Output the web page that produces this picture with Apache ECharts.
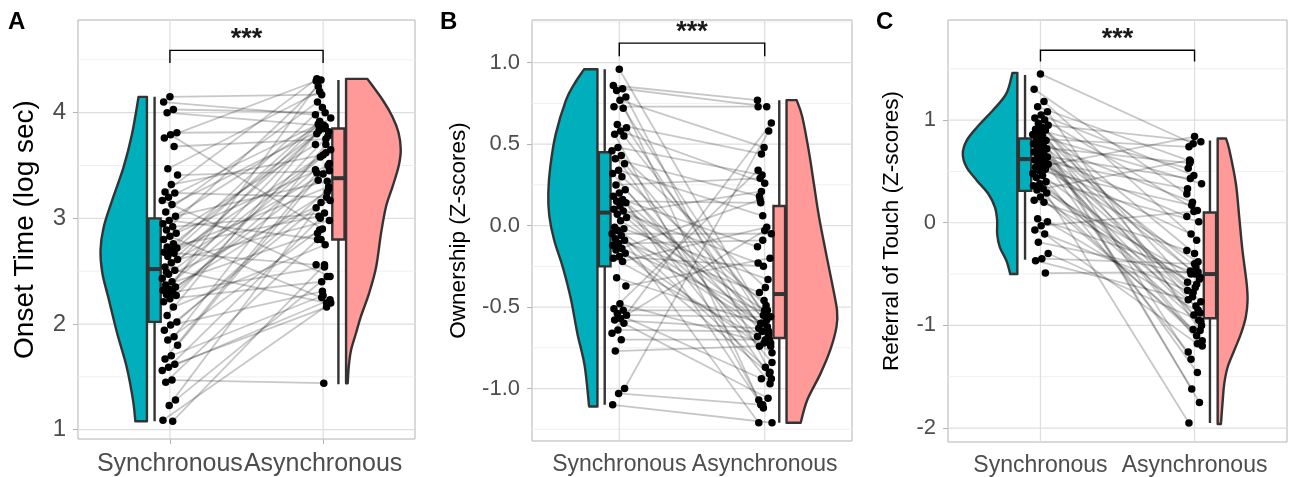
<!DOCTYPE html>
<html>
<head>
<meta charset="utf-8">
<script src="https://cdn.jsdelivr.net/npm/echarts@6/dist/echarts.min.js"></script>
<style>html,body{margin:0;padding:0;background:#fff}#chart{width:1293px;height:477px}</style>
</head>
<body>
<div id="chart"></div>
<script>
// categories
var categories = ['Synchronous', 'Asynchronous'];

// A: onset time (log sec), one entry per participant, sync / async in the same order
var onsetSync = [4.15,4.10,4.03,4.00,3.81,3.79,3.76,3.68,3.47,3.41,3.32,3.25,3.24,3.20,3.17,3.13,3.06,3.02,2.98,2.95,2.92,2.89,2.86,2.83,2.80,2.76,2.73,2.72,2.70,2.68,2.67,2.64,2.61,2.58,2.54,2.51,2.47,2.43,2.40,2.37,2.35,2.33,2.32,2.30,2.28,2.27,2.24,2.21,2.16,2.08,2.02,1.99,1.94,1.88,1.85,1.80,1.70,1.67,1.62,1.59,1.56,1.47,1.45,1.28,1.23,1.09,1.08,2.49];
var onsetAsync = [4.17,3.98,4.00,3.88,3.82,2.90,4.30,3.75,4.20,3.45,3.60,4.32,3.20,3.90,2.45,3.85,4.10,3.35,2.80,3.95,3.05,4.25,3.50,2.25,3.70,3.87,3.02,3.30,4.05,2.56,3.62,3.92,2.98,3.42,3.80,2.20,3.58,3.17,3.88,2.86,3.25,4.31,3.65,2.54,3.36,3.78,2.40,3.46,2.75,3.83,3.28,2.31,3.10,3.70,2.89,3.52,2.27,3.43,2.16,3.00,2.23,1.44,2.80,2.45,3.15,2.20,2.56,3.89];
// box stats [lower whisker, q1, median, q3, upper whisker]
var onsetBoxSync = [1.08, 2.02, 2.52, 3.00, 4.15];
var onsetBoxAsync = [1.43, 2.80, 3.38, 3.85, 4.31];
// violin outlines: y values and relative density
var onsetViolinSyncY = [4.15,3.80,3.49,3.17,2.92,2.70,2.48,2.23,1.91,1.60,1.28,1.08];
var onsetViolinSyncD = [0.18,0.32,0.50,0.75,0.93,1.00,0.96,0.82,0.64,0.44,0.30,0.25];
var onsetViolinAsyncY = [4.32,4.12,3.96,3.81,3.65,3.49,3.30,3.11,2.86,2.54,2.29,2.07,1.91,1.75,1.60,1.44];
var onsetViolinAsyncD = [0.39,0.67,0.85,0.96,1.00,0.96,0.85,0.73,0.64,0.55,0.42,0.27,0.18,0.09,0.05,0.03];
var onsetTicks = [1, 2, 3, 4];
var onsetMinor = [1.5, 2.5, 3.5, 4.5];

// B: ownership (Z-scores)
var ownSync = [0.96,0.86,0.84,0.83,0.79,0.77,0.73,0.72,0.62,0.60,0.58,0.56,0.55,0.48,0.46,0.43,0.41,0.38,0.34,0.32,0.30,0.25,0.22,0.20,0.18,0.16,0.15,0.14,0.12,0.10,0.09,0.07,0.05,0.03,-0.01,-0.02,-0.03,-0.05,-0.06,-0.08,-0.09,-0.11,-0.12,-0.14,-0.15,-0.17,-0.19,-0.20,-0.22,-0.32,-0.37,-0.48,-0.51,-0.52,-0.54,-0.55,-0.57,-0.58,-0.60,-0.64,-0.66,-0.70,-0.77,-1.00,-1.03,-1.10];
var ownAsync = [-0.55,0.77,0.73,-1.10,-0.90,0.48,0.73,-0.62,0.44,-0.72,0.26,-1.07,-0.56,0.31,-0.94,-0.38,0.18,-0.67,0.06,-0.84,-0.49,0.29,-0.70,-1.12,-0.13,-0.58,0.14,-0.97,-0.46,-0.23,-0.63,0.21,-0.74,-0.52,-1.21,-0.33,-0.60,-0.05,-0.87,-0.41,-0.65,-0.09,-0.78,-0.54,0.16,-0.91,-0.25,-0.68,-0.01,-0.60,-0.20,-0.72,0.34,-0.52,-0.94,-0.56,-0.03,-0.63,-1.06,-0.65,0.63,-0.70,-0.74,0.58,-1.10,-1.21];
var ownBoxSync = [-1.10, -0.25, 0.08, 0.45, 0.96];
var ownBoxAsync = [-1.21, -0.69, -0.42, 0.12, 0.77];
var ownViolinSyncY = [0.96,0.87,0.77,0.56,0.36,0.20,0.06,-0.09,-0.25,-0.45,-0.66,-0.86,-1.11];
var ownViolinSyncD = [0.27,0.47,0.64,0.85,0.96,1.00,0.98,0.88,0.71,0.54,0.41,0.26,0.17];
var ownViolinAsyncY = [0.77,0.67,0.46,0.26,0.06,-0.15,-0.35,-0.52,-0.62,-0.76,-0.91,-1.07,-1.21];
var ownViolinAsyncD = [0.20,0.31,0.44,0.54,0.64,0.77,0.90,1.00,0.99,0.87,0.67,0.41,0.28];
var ownTicks = [-1, -0.5, 0, 0.5, 1];
var ownMinor = [-1.25, -0.75, -0.25, 0.25, 0.75, 1.25];

// C: referral of touch (Z-scores)
var refSync = [1.45,1.30,1.18,1.13,1.08,1.05,1.02,1.00,0.97,0.95,0.93,0.91,0.90,0.88,0.86,0.84,0.82,0.80,0.78,0.77,0.75,0.74,0.72,0.70,0.69,0.67,0.66,0.64,0.63,0.61,0.60,0.58,0.57,0.55,0.54,0.52,0.51,0.48,0.46,0.44,0.40,0.38,0.36,0.33,0.32,0.29,0.25,0.22,0.20,0.04,0.01,-0.03,-0.07,-0.11,-0.19,-0.30,-0.35,-0.37,-0.49];
var refAsync = [0.77,0.28,-0.17,0.60,-1.05,0.46,-0.58,0.12,-1.33,0.79,-0.30,0.53,-0.85,-1.62,0.38,-0.50,0.74,-0.95,0.20,-1.20,-0.43,0.58,-1.75,-0.68,0.06,-1.10,0.43,-0.53,-0.90,0.33,-1.46,-0.11,-0.77,0.84,-1.26,-0.38,0.17,-1.00,-0.63,-1.95,0.01,-0.72,-1.15,-0.81,0.61,-0.55,-1.04,-0.27,-0.60,-0.47,-0.88,0.11,-0.66,-1.18,-0.50,-0.96,-0.40,-0.75,-0.48];
var refBoxSync = [-0.36, 0.31, 0.62, 0.82, 1.44];
var refBoxAsync = [-1.95, -0.93, -0.50, 0.10, 0.80];
var refViolinSyncY = [1.46,1.26,1.10,0.93,0.80,0.67,0.54,0.41,0.28,0.15,0.02,-0.11,-0.24,-0.37,-0.50];
var refViolinSyncD = [0.09,0.20,0.44,0.74,0.93,1.00,0.93,0.74,0.53,0.41,0.37,0.37,0.32,0.20,0.13];
var refViolinAsyncY = [0.82,0.71,0.38,0.06,-0.27,-0.59,-0.76,-0.92,-1.08,-1.24,-1.41,-1.57,-1.73,-1.96];
var refViolinAsyncD = [0.28,0.39,0.61,0.72,0.83,0.97,1.00,0.94,0.78,0.56,0.33,0.22,0.17,0.11];
var refTicks = [-2, -1, 0, 1];
var refMinor = [-1.5, -0.5, 0.5, 1.5];

// significance label and bracket heights
var sigLabel = '***';
var sigBarY = [4.59, 1.12, 1.68];
var sigTickY = [4.47, 1.04, 1.57];

var FONT = '"Liberation Sans", Arial, Helvetica, sans-serif';
var TEAL = '#00AFBB', PINK = '#FF9A98', OUTLINE = '#333333';
var VIOLIN_GAP = 0.15, BOX_GAP = 0.10, BOX_W = 0.08, JIT = 0.1;

var panels = [
  {sync: onsetSync, async: onsetAsync, boxS: onsetBoxSync, boxA: onsetBoxAsync,
   vSY: onsetViolinSyncY, vSD: onsetViolinSyncD, vAY: onsetViolinAsyncY, vAD: onsetViolinAsyncD,
   ticks: onsetTicks, minor: onsetMinor, title: 'Onset Time (log sec)', letter: 'A',
   min: 0.912, max: 4.877, grid: {left: 78, top: 20, width: 337, height: 419},
   vw: [0.303, 0.357], tickFont: 24, catFont: 25, titleFont: 28, nameGap: 39, catMargin: 13, letterX: 8,
   fmt: function (v) { return String(v); }},
  {sync: ownSync, async: ownAsync, boxS: ownBoxSync, boxA: ownBoxAsync,
   vSY: ownViolinSyncY, vSD: ownViolinSyncD, vAY: ownViolinAsyncY, vAD: ownViolinAsyncD,
   ticks: ownTicks, minor: ownMinor, title: 'Ownership (Z-scores)', letter: 'B',
   min: -1.322, max: 1.262, grid: {left: 532, top: 20, width: 320, height: 421},
   vw: [0.338, 0.347], tickFont: 22, catFont: 23, titleFont: 22.5, nameGap: 62, catMargin: 12, letterX: 440,
   fmt: function (v) { return v.toFixed(1); }},
  {sync: refSync, async: refAsync, boxS: refBoxSync, boxA: refBoxAsync,
   vSY: refViolinSyncY, vSD: refViolinSyncD, vAY: refViolinAsyncY, vAD: refViolinAsyncD,
   ticks: refTicks, minor: refMinor, title: 'Referral of Touch (Z-scores)', letter: 'C',
   min: -2.136, max: 1.975, grid: {left: 948, top: 20, width: 339, height: 422},
   vw: [0.354, 0.194], tickFont: 22, catFont: 23, titleFont: 22.5, nameGap: 45, catMargin: 12, letterX: 876,
   fmt: function (v) { return String(v); }}
];

// spreads points sideways around the category, same for every panel
function jitter(i, seed) {
  return (((i * 37 + seed * 11) % 23) / 22 - 0.5) * JIT;
}

// smooth path through points (catmull-rom -> bezier)
function smoothPath(pts) {
  var d = '';
  for (var i = 0; i < pts.length - 1; i++) {
    var p0 = pts[Math.max(i - 1, 0)], p1 = pts[i], p2 = pts[i + 1], p3 = pts[Math.min(i + 2, pts.length - 1)];
    var c1 = [p1[0] + (p2[0] - p0[0]) / 6, p1[1] + (p2[1] - p0[1]) / 6];
    var c2 = [p2[0] - (p3[0] - p1[0]) / 6, p2[1] - (p3[1] - p1[1]) / 6];
    d += ' C' + c1[0] + ' ' + c1[1] + ' ' + c2[0] + ' ' + c2[1] + ' ' + p2[0] + ' ' + p2[1];
  }
  return d;
}

var grids = [], xAxes = [], yAxes = [], series = [], graphics = [];

panels.forEach(function (p, k) {
  grids.push({left: p.grid.left, top: p.grid.top, width: p.grid.width, height: p.grid.height,
    show: true, borderColor: '#B3B3B3', borderWidth: 1, backgroundColor: '#fff'});
  xAxes.push({type: 'value', gridIndex: k, min: 0.4, max: 2.6,
    axisLine: {show: false}, splitLine: {show: false},
    axisTick: {show: true, customValues: [1, 2], length: 5, lineStyle: {color: '#B3B3B3', width: 1}},
    axisLabel: {customValues: [1, 2], margin: p.catMargin, color: '#4D4D4D', fontSize: p.catFont, fontFamily: FONT,
      formatter: function (v) { return categories[Math.round(v) - 1]; }}});
  yAxes.push({type: 'value', gridIndex: k, min: p.min, max: p.max,
    axisLine: {show: false}, splitLine: {show: false},
    axisTick: {show: true, customValues: p.ticks, length: 5, lineStyle: {color: '#B3B3B3', width: 1}},
    axisLabel: {customValues: p.ticks, margin: 12, color: '#4D4D4D', fontSize: p.tickFont, fontFamily: FONT, formatter: p.fmt},
    name: p.title, nameLocation: 'middle', nameGap: p.nameGap,
    nameTextStyle: {color: '#000', fontSize: p.titleFont, fontFamily: FONT}});

  graphics.push({type: 'text', left: p.letterX, top: 10,
    style: {text: p.letter, font: 'bold 24px ' + FONT, fill: '#000'}});

  // grid lines
  series.push({type: 'custom', xAxisIndex: k, yAxisIndex: k, z: 1, silent: true, data: [[1, p.ticks[0]]],
    renderItem: function (params, api) {
      var cs = params.coordSys, ch = [];
      p.minor.forEach(function (v) {
        var y = api.coord([1, v])[1];
        ch.push({type: 'line', shape: {x1: cs.x, y1: y, x2: cs.x + cs.width, y2: y}, style: {stroke: '#EFEFEF', lineWidth: 1}});
      });
      p.ticks.forEach(function (v) {
        var y = api.coord([1, v])[1];
        ch.push({type: 'line', shape: {x1: cs.x, y1: y, x2: cs.x + cs.width, y2: y}, style: {stroke: '#DEDEDE', lineWidth: 1.2}});
      });
      [1, 2].forEach(function (v) {
        var x = api.coord([v, 0])[0];
        ch.push({type: 'line', shape: {x1: x, y1: cs.y, x2: x, y2: cs.y + cs.height}, style: {stroke: '#DEDEDE', lineWidth: 1.2}});
      });
      return {type: 'group', children: ch};
    }});

  // half violins
  var violins = [
    {ys: p.vSY, ds: p.vSD, edge: 1 - VIOLIN_GAP, dir: -1, w: p.vw[0], color: TEAL},
    {ys: p.vAY, ds: p.vAD, edge: 2 + VIOLIN_GAP, dir: 1, w: p.vw[1], color: PINK}
  ];
  series.push({type: 'custom', xAxisIndex: k, yAxisIndex: k, z: 2, silent: true,
    data: violins.map(function (v) { return [v.edge, v.ys[0]]; }),
    renderItem: function (params, api) {
      var v = violins[params.dataIndex];
      var pts = v.ys.map(function (y, j) { return api.coord([v.edge + v.dir * v.ds[j] * v.w, y]); });
      var top = api.coord([v.edge, v.ys[0]]), bot = api.coord([v.edge, v.ys[v.ys.length - 1]]);
      var d = 'M' + top[0] + ' ' + top[1] + ' L' + pts[0][0] + ' ' + pts[0][1] + smoothPath(pts) +
        ' L' + bot[0] + ' ' + bot[1] + ' Z';
      return {type: 'path', shape: {pathData: d},
        style: {fill: v.color, stroke: OUTLINE, lineWidth: 2.4, lineJoin: 'round'}};
    }});

  // paired lines
  var pairs = p.sync.map(function (s, i) {
    return [1 + jitter(i, 1), s, 2 + jitter(i, 5), p.async[i]];
  });
  series.push({type: 'custom', xAxisIndex: k, yAxisIndex: k, z: 3, silent: true, data: pairs,
    renderItem: function (params, api) {
      var a = api.coord([api.value(0), api.value(1)]), b = api.coord([api.value(2), api.value(3)]);
      return {type: 'line', shape: {x1: a[0], y1: a[1], x2: b[0], y2: b[1]},
        style: {stroke: 'rgba(0,0,0,0.22)', lineWidth: 1.8}};
    }});

  // box plots
  var boxes = [[1 - BOX_GAP].concat(p.boxS), [2 + BOX_GAP].concat(p.boxA)];
  var boxColors = [TEAL, PINK];
  series.push({type: 'custom', xAxisIndex: k, yAxisIndex: k, z: 4, silent: true, data: boxes,
    renderItem: function (params, api) {
      var x = api.value(0);
      var lo = api.coord([x, api.value(1)]), q1 = api.coord([x - BOX_W / 2, api.value(2)]);
      var med = api.value(3), q3 = api.coord([x + BOX_W / 2, api.value(4)]), hi = api.coord([x, api.value(5)]);
      var m1 = api.coord([x - BOX_W / 2, med]), m2 = api.coord([x + BOX_W / 2, med]);
      return {type: 'group', children: [
        {type: 'line', shape: {x1: lo[0], y1: lo[1], x2: hi[0], y2: hi[1]}, style: {stroke: OUTLINE, lineWidth: 2.4}},
        {type: 'rect', shape: {x: q1[0], y: q3[1], width: q3[0] - q1[0], height: q1[1] - q3[1]},
          style: {fill: boxColors[params.dataIndex], stroke: OUTLINE, lineWidth: 2.4}},
        {type: 'line', shape: {x1: m1[0], y1: m1[1], x2: m2[0], y2: m2[1]}, style: {stroke: OUTLINE, lineWidth: 4}}
      ]};
    }});

  // points
  var pts = [];
  p.sync.forEach(function (s, i) { pts.push([1 + jitter(i, 1), s]); });
  p.async.forEach(function (s, i) { pts.push([2 + jitter(i, 5), s]); });
  series.push({type: 'scatter', xAxisIndex: k, yAxisIndex: k, z: 5, silent: true, data: pts,
    symbolSize: 7.5, itemStyle: {color: '#000', opacity: 1}});

  // significance bracket
  series.push({type: 'custom', xAxisIndex: k, yAxisIndex: k, z: 6, silent: true, data: [[1.5, sigBarY[k]]],
    renderItem: function (params, api) {
      var a = api.coord([1, sigTickY[k]]), b = api.coord([1, sigBarY[k]]);
      var c = api.coord([2, sigBarY[k]]), d = api.coord([2, sigTickY[k]]);
      return {type: 'group', children: [
        {type: 'polyline', shape: {points: [a, b, c, d]}, style: {stroke: '#000', lineWidth: 1.4, fill: null}},
        {type: 'text', x: (b[0] + c[0]) / 2, y: b[1] - 11,
          style: {text: sigLabel, font: 'bold 27px ' + FONT, fill: '#1A1A1A', align: 'center', verticalAlign: 'middle'}}
      ]};
    }});
});

var chart = echarts.init(document.getElementById('chart'), null, {renderer: 'canvas'});
chart.setOption({
  animation: false,
  backgroundColor: '#fff',
  grid: grids,
  xAxis: xAxes,
  yAxis: yAxes,
  graphic: graphics,
  series: series
});
</script>
</body>
</html>
